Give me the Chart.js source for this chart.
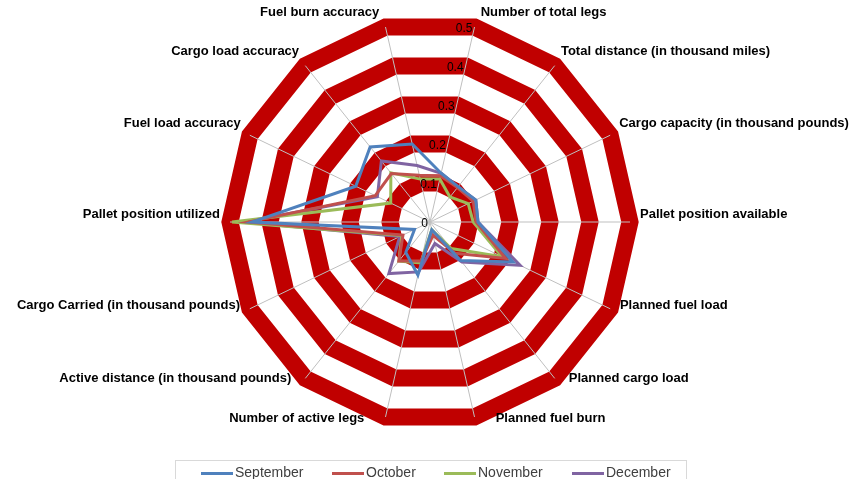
<!DOCTYPE html>
<html>
<head>
<meta charset="utf-8">
<script src="https://cdn.jsdelivr.net/npm/chart.js@4.4.0/dist/chart.umd.min.js"></script>
<style>
  html, body { margin: 0; padding: 0; background: #fff; }
  #wrap { position: relative; width: 851px; height: 479px; }
  #legend {
    position: absolute; left: 175px; top: 460px; width: 512px; height: 24px;
    border: 1px solid #d9d9d9; box-sizing: border-box;
    font-family: "Liberation Sans", Arial, sans-serif; font-size: 14px; color: #404040;
  }
  .item { position: absolute; top: 2px; height: 18px; line-height: 18px; white-space: nowrap; }
  .swatch { display: inline-block; width: 32px; height: 3px; vertical-align: middle; margin-right: 2px; }
</style>
</head>
<body>
<div id="wrap">
  <canvas id="radarChart" width="851" height="479"></canvas>
  <div id="legend"></div>
</div>
<script>
// Categories (clockwise, starting just right of the top)
const categories = [
    'Number of total legs',
    'Total distance (in thousand miles)',
    'Cargo capacity (in thousand pounds)',
    'Pallet position available',
    'Planned fuel load',
    'Planned cargo load',
    'Planned fuel burn',
    'Number of active legs',
    'Active distance (in thousand pounds)',
    'Cargo Carried (in thousand pounds)',
    'Pallet position utilized',
    'Fuel load accuracy',
    'Cargo load accuracy',
    'Fuel burn accuracy'
];

const months = ['September', 'October', 'November', 'December'];

// Series values
const september = [0.125, 0.113, 0.127, 0.12, 0.23, 0.123, 0.02, 0.136, 0.097, 0.043, 0.445, 0.206, 0.24, 0.2];
const october   = [0.118, 0.11, 0.12, 0.115, 0.21, 0.1, 0.034, 0.1, 0.125, 0.075, 0.455, 0.152, 0.155, 0.12];
const november  = [0.11, 0.08, 0.106, 0.108, 0.2, 0.085, 0.02, 0.105, 0.125, 0.078, 0.495, 0.109, 0.157, 0.11];
const december  = [0.125, 0.112, 0.127, 0.12, 0.25, 0.128, 0.055, 0.128, 0.165, 0.084, 0.465, 0.146, 0.195, 0.145];

const tickValues = [0, 0.1, 0.2, 0.3, 0.4, 0.5];

const seriesColors = ['#4F81BD', '#C0504D', '#9BBB59', '#8064A2'];

/**
 * Axis tick labels and category labels drawn next to the scale
 */
const labelPlugin = {
    id: 'radarLabels',
    afterDatasetsDraw(chart) {
        const scale = chart.scales.r;
        const ctx = chart.ctx;
        ctx.save();

        // tick labels along the first axis
        ctx.font = '12px "Liberation Sans", Arial, sans-serif';
        ctx.fillStyle = '#000';
        ctx.textAlign = 'right';
        ctx.textBaseline = 'middle';
        tickValues.forEach(v => {
            const p = scale.getPointPosition(0, scale.getDistanceFromCenterForValue(v));
            ctx.fillText(String(v), p.x - 2, p.y + 2);
        });

        // category labels outside the polygon
        ctx.font = 'bold 13px "Liberation Sans", Arial, sans-serif';
        categories.forEach((label, i) => {
            const p = scale.getPointPosition(i, scale.drawingArea + 10);
            const dx = p.x - scale.xCenter;
            const dy = p.y - scale.yCenter;
            const len = Math.sqrt(dx * dx + dy * dy);
            const s = dx / len;
            const c = -dy / len;
            let x = p.x;
            let y = p.y - 8;
            if (c < 0) x += Math.sign(s) * 21 * Math.pow(c, 4);
            if (c > 0.9) x += Math.sign(s) * 4;
            if (c > 0) y += 3 * c * c;
            if (s > 0.05) ctx.textAlign = 'left';
            else if (s < -0.05) ctx.textAlign = 'right';
            else ctx.textAlign = 'center';
            ctx.fillText(label, x, y);
        });
        ctx.restore();
    }
};

const datasets = [september, october, november, december].map((data, i) => ({
    label: months[i],
    data: data,
    borderColor: seriesColors[i],
    backgroundColor: 'transparent',
    borderWidth: 3,
    pointRadius: 0,
    fill: false,
    tension: 0
}));

new Chart(document.getElementById('radarChart'), {
    type: 'radar',
    data: { labels: categories, datasets: datasets },
    options: {
        responsive: false,
        animation: false,
        layout: { padding: { top: 22, bottom: 57, left: 230, right: 221 } },
        plugins: {
            legend: { display: false },
            tooltip: { enabled: false }
        },
        scales: {
            r: {
                min: 0,
                max: 0.5,
                startAngle: 360 / 28,
                ticks: { stepSize: 0.1, display: false },
                grid: { color: '#C00000', lineWidth: 17 },
                angleLines: { color: '#BFBFBF', lineWidth: 1 },
                pointLabels: { display: false }
            }
        }
    },
    plugins: [labelPlugin]
});

// Legend
const legendLeft = [25, 156, 268, 396];
const legend = document.getElementById('legend');
months.forEach((m, i) => {
    const el = document.createElement('div');
    el.className = 'item';
    el.style.left = legendLeft[i] + 'px';
    el.innerHTML = '<span class="swatch" style="background:' + seriesColors[i] + '"></span>' + m;
    legend.appendChild(el);
});
</script>
</body>
</html>
